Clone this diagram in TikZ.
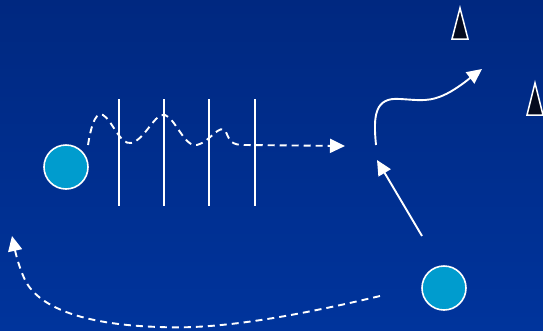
\documentclass[tikz,border=0pt]{standalone}
\usetikzlibrary{arrows.meta}
\definecolor{bgtop}{RGB}{0,40,128}
\definecolor{bgbot}{RGB}{0,52,156}
\definecolor{ball}{RGB}{0,156,206}
\definecolor{tri}{RGB}{5,10,30}
\begin{document}
\begin{tikzpicture}[x=1pt,y=-1pt,
  ballnode/.style={circle,draw=white,line width=1.6pt,fill=ball,minimum size=44pt,inner sep=0pt},
  wall/.style={draw=white,line width=1.8pt},
  flow/.style={draw=white,line width=1.9pt,-{Triangle[length=15pt,width=14pt]}},
  dflow/.style={flow,dash pattern=on 7pt off 5pt},
  beacon/.style={draw=white,line width=1.5pt,fill=tri,line join=miter}]
\shade[top color=bgtop,bottom color=bgbot] (0,0) rectangle (543,330);
\useasboundingbox (0,0) rectangle (543,330);
\node[ballnode] (b1) at (66,167) {};
\node[ballnode] (b2) at (444,288) {};
\foreach \x in {119,164,209,255} \draw[wall] (\x,99) -- (\x,206);
\coordinate (w0) at (88,145);
\coordinate (w1) at (345,146);
\draw[dflow] (w0) .. controls (92,120) and (97,112) .. (103,115)
  .. controls (112,120) and (120,145) .. (131,143)
  .. controls (145,140) and (155,112) .. (165,115)
  .. controls (175,118) and (185,148) .. (197,145)
  .. controls (210,142) and (220,122) .. (226,132)
  .. controls (230,142) and (232,145) .. (245,145)
  -- (w1);
\coordinate (c0) at (376,145);
\coordinate (c1) at (482,69);
\draw[flow] (c0) .. controls (373,115) and (375,97) .. (400,99)
  .. controls (420,100) and (430,103) .. (450,92)
  .. controls (462,85) and (470,78) .. (c1);
\coordinate (s0) at (422,236);
\coordinate (s1) at (377,160);
\draw[flow] (s0) -- (s1);
\coordinate (d0) at (380,296);
\coordinate (d1) at (12,236);
\draw[dflow] (d0) .. controls (300,315) and (220,330) .. (160,327)
  .. controls (90,325) and (40,310) .. (25,280)
  .. controls (18,265) and (15,250) .. (d1);
\draw[beacon] (460,8) -- (468,39) -- (452,39) -- cycle;
\draw[beacon] (535,83) -- (543,115) -- (527,115) -- cycle;
\end{tikzpicture}
\end{document}
